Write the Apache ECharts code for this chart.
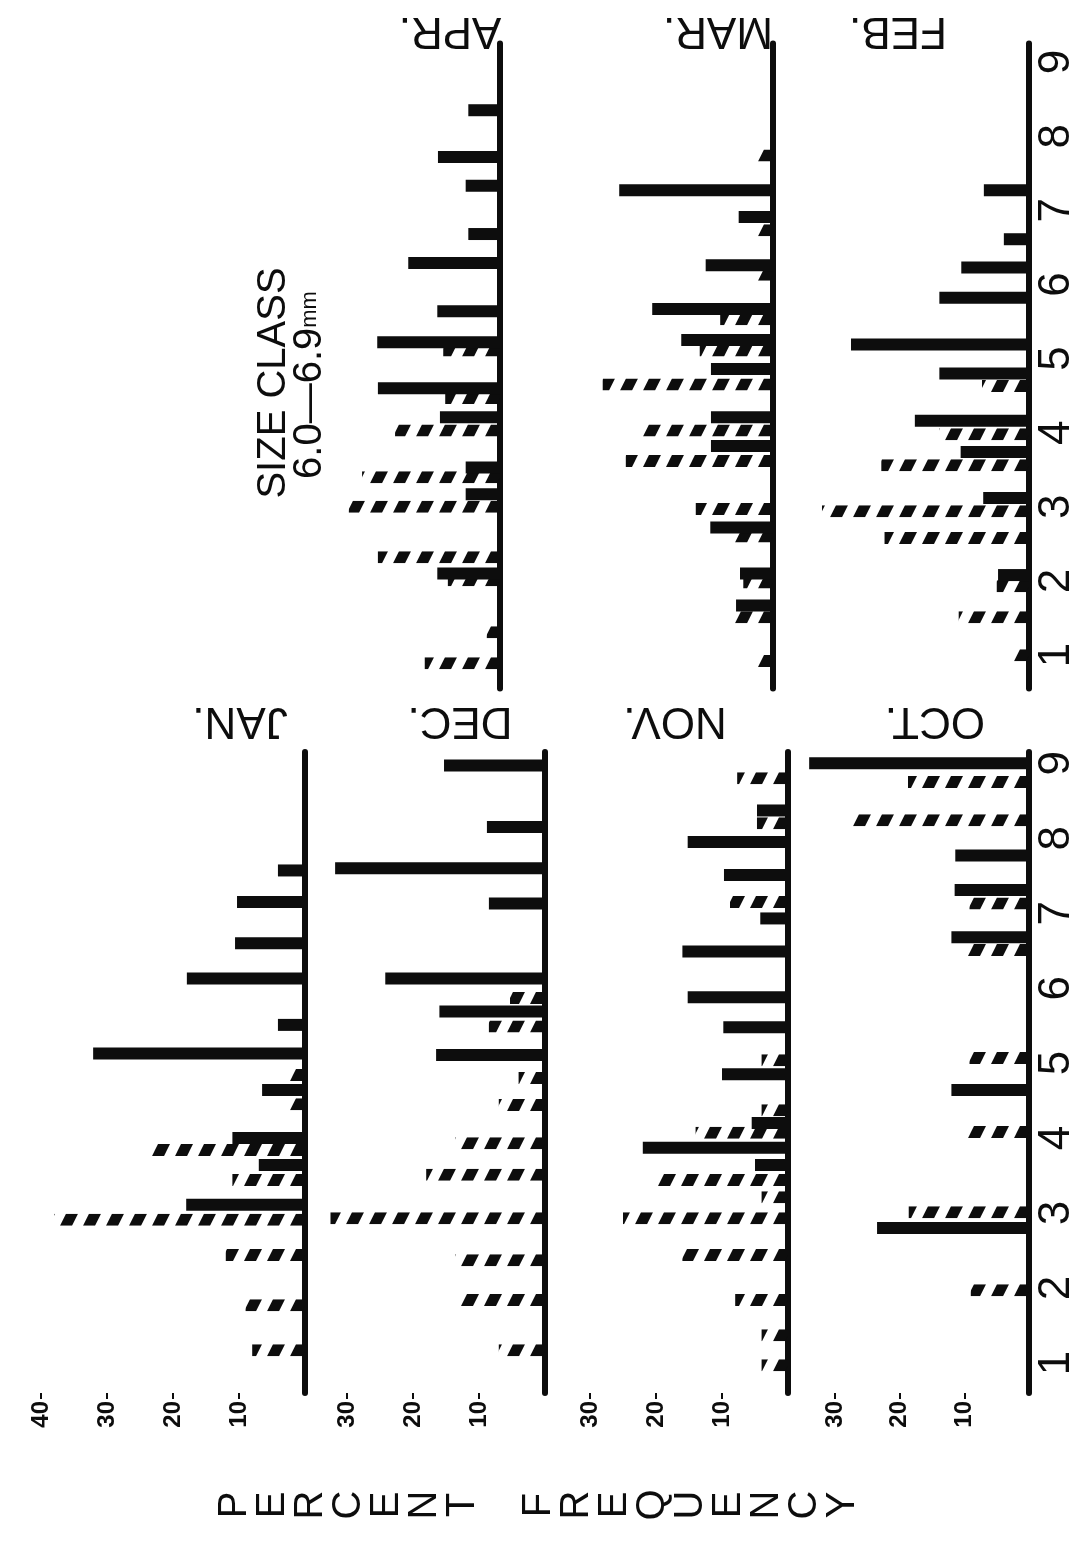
<!DOCTYPE html>
<html><head><meta charset="utf-8">
<script src="https://cdn.jsdelivr.net/npm/echarts@6/dist/echarts.min.js"></script>
<style>html,body{margin:0;padding:0;background:#fff}#c{width:1079px;height:1557px}</style>
</head><body><div id="c"></div><script>
// ---- data: [size class, percent frequency] ----
const SIZE_TICKS = [1,2,3,4,5,6,7,8,9];
const JAN_PCT_TICKS = [10,20,30,40];
const PCT_TICKS = [10,20,30];
const MONTHS = ['JAN.','DEC.','NOV.','OCT.','APR.','MAR.','FEB.'];
const TITLE_1 = 'SIZE CLASS';
const TITLE_2 = '6.0\u20146.9';
const TITLE_UNIT = 'mm';
const Y_TITLE = 'PERCENT FREQUENCY';

const JAN_SOLID = [[7.57,4.1],[7.15,10.3],[6.6,10.6],[6.13,17.9],[5.51,4.1],[5.13,32.1],[4.64,6.5],[4.0,11],[3.64,7],[3.11,18]];
const JAN_HATCH = [[4.84,2.5],[4.45,3],[3.84,23.5],[3.44,11],[2.91,38],[2.44,12],[1.77,9],[1.17,8]];
const DEC_SOLID = [[8.97,15.3],[8.15,8.8],[7.6,31.8],[7.13,8.5],[6.13,24.2],[5.69,16],[5.11,16.5]];
const DEC_HATCH = [[5.87,5.3],[5.49,8.5],[4.8,4],[4.44,7],[3.93,13.6],[3.51,18],[2.93,32.5],[2.37,13.6],[1.84,13],[1.17,7]];
const NOV_SOLID = [[8.37,4.7],[7.95,15.2],[7.51,9.7],[6.93,4.2],[6.49,16],[5.88,15.2],[5.48,9.8],[4.85,10],[4.2,5.5],[3.87,22],[3.64,5]];
const NOV_HATCH = [[8.8,7.7],[8.2,4.7],[7.15,8.8],[5.04,4],[4.37,4],[4.07,14],[3.44,20],[3.21,4],[2.93,25],[2.44,16],[1.84,8],[1.37,4],[0.97,4]];
const OCT_SOLID = [[9.0,34],[7.77,11.4],[7.31,11.5],[6.68,12],[4.64,12],[2.8,23.5]];
const OCT_HATCH = [[8.75,18.7],[8.24,27.5],[7.13,9.2],[6.51,9.8],[5.07,9.2],[4.08,10],[3.01,18.6],[1.97,9]];
const APR_SOLID = [[8.35,4.8],[7.72,9.4],[7.33,5.2],[6.68,4.8],[6.29,13.9],[5.64,9.5],[5.22,18.6],[4.60,18.5],[4.21,9.1],[3.53,5.2],[3.17,5.2],[2.10,9.5]];
const APR_HATCH = [[5.11,8.6],[4.47,8.3],[4.03,15.9],[3.40,20.9],[3.0,22.9],[2.32,18.5],[2.01,7.9],[1.31,2.0],[0.89,11.4]];
const MAR_SOLID = [[7.27,23.3],[6.91,5.2],[6.26,10.2],[5.67,18.3],[5.25,13.9],[4.86,9.4],[4.21,9.4],[3.82,9.4],[2.72,9.5],[2.10,5.0],[1.67,5.6]];
const MAR_HATCH = [[7.74,2.7],[6.73,2.9],[6.13,2.7],[5.53,8.0],[5.11,11.1],[4.65,25.8],[4.03,20.0],[3.62,22.3],[2.97,11.7],[2.60,6.1],[1.98,4.5],[1.51,6.1],[0.92,2.7]];
const FEB_SOLID = [[7.27,7.0],[6.61,3.9],[6.23,10.5],[5.82,13.9],[5.19,27.6],[4.80,13.9],[4.16,17.7],[3.74,10.6],[3.12,7.1],[2.08,4.8]];
const FEB_HATCH = [[4.63,7.3],[3.98,13.9],[3.56,22.9],[2.94,32.1],[2.58,22.4],[1.93,5.0],[1.51,10.9],[1.0,2.7]];

// ---- layout / style ----
const INK = '#0d0d0d';
const FONT = 'Liberation Sans';
const PX_PER_PCT = 6.6;
const BAR_H = 12;
const HATCH_P = 23, HATCH_W = 12, HATCH_SK = 6;
const LEFT_COL = {top: 752, height: 641, min: 0.6, max: 9.15};
const RIGHT_COL = {top: 43.5, height: 645, min: 0.55, max: 9.25};
const PANELS = [
  {name: MONTHS[0], solid: JAN_SOLID, hatch: JAN_HATCH, col: LEFT_COL, left: 40, width: 265, pct: JAN_PCT_TICKS, sizeLabels: false, title: [240, 720]},
  {name: MONTHS[1], solid: DEC_SOLID, hatch: DEC_HATCH, col: LEFT_COL, left: 305, width: 240, pct: PCT_TICKS, sizeLabels: false, title: [460, 720]},
  {name: MONTHS[2], solid: NOV_SOLID, hatch: NOV_HATCH, col: LEFT_COL, left: 545, width: 243, pct: PCT_TICKS, sizeLabels: false, title: [675, 720]},
  {name: MONTHS[3], solid: OCT_SOLID, hatch: OCT_HATCH, col: LEFT_COL, left: 788, width: 246, pct: PCT_TICKS, sizeLabels: true, title: [935, 720]},
  {name: MONTHS[4], solid: APR_SOLID, hatch: APR_HATCH, col: RIGHT_COL, left: 230, width: 270, pct: null, sizeLabels: false, title: [450, 30]},
  {name: MONTHS[5], solid: MAR_SOLID, hatch: MAR_HATCH, col: RIGHT_COL, left: 503, width: 270, pct: null, sizeLabels: false, title: [718, 30]},
  {name: MONTHS[6], solid: FEB_SOLID, hatch: FEB_HATCH, col: RIGHT_COL, left: 773, width: 262, pct: null, sizeLabels: true, title: [898, 30]}
];

function solidItem(params, api) {
  const s = api.value(0), v = api.value(1);
  const a = api.coord([0, s]), b = api.coord([v, s]);
  return {type: 'rect', shape: {x: b[0], y: a[1] - BAR_H / 2, width: a[0] - b[0], height: BAR_H}, style: {fill: INK}};
}
function hatchItem(params, api) {
  const s = api.value(0), v = api.value(1);
  const a = api.coord([0, s]), b = api.coord([v, s]);
  const yT = a[1] - BAR_H / 2, yB = a[1] + BAR_H / 2, xR = a[0], xL = b[0];
  const kids = [];
  for (let xr = xR + 3; xr > xL; xr -= HATCH_P) {
    kids.push({type: 'polygon', shape: {points: [[xr - HATCH_W - HATCH_SK, yB], [xr - HATCH_SK, yB], [xr, yT], [xr - HATCH_W, yT]]}, style: {fill: INK}});
  }
  return {type: 'group', clipPath: {type: 'rect', shape: {x: xL, y: yT, width: xR - xL, height: BAR_H}}, children: kids};
}

const grid = [], xAxis = [], yAxis = [], series = [], graphic = [];
PANELS.forEach((p, i) => {
  grid.push({left: p.left, top: p.col.top, width: p.width, height: p.col.height, containLabel: false});
  xAxis.push({
    gridIndex: i, type: 'value', inverse: true, min: 0, max: p.width / PX_PER_PCT,
    axisLine: {show: false}, splitLine: {show: false},
    axisTick: {show: !!p.pct, customValues: p.pct || [], length: 6, lineStyle: {color: INK, width: 2}},
    axisLabel: {show: !!p.pct, customValues: p.pct || [], rotate: 90, fontSize: 24, fontWeight: 'bold', fontFamily: FONT, color: INK, margin: 8}
  });
  yAxis.push({
    gridIndex: i, type: 'value', min: p.col.min, max: p.col.max, position: 'right',
    axisLine: {show: true, onZero: false, lineStyle: {color: INK, width: 6}},
    axisTick: {show: false}, splitLine: {show: false},
    axisLabel: {show: p.sizeLabels, customValues: SIZE_TICKS, rotate: 90, fontSize: 44, fontFamily: FONT, color: INK, margin: 6}
  });
  series.push({type: 'custom', xAxisIndex: i, yAxisIndex: i, renderItem: hatchItem, encode: {x: 1, y: 0}, data: p.hatch, silent: true});
  series.push({type: 'custom', xAxisIndex: i, yAxisIndex: i, renderItem: solidItem, encode: {x: 1, y: 0}, data: p.solid, silent: true});
  graphic.push({type: 'text', x: p.title[0], y: p.title[1], rotation: Math.PI,
    style: {text: p.name, font: '44px ' + FONT, fill: INK, textAlign: 'center', textVerticalAlign: 'middle'}});
});
graphic.push({type: 'text', x: 274, y: 383, rotation: Math.PI / 2,
  style: {text: TITLE_1, font: '40px ' + FONT, fill: INK, textAlign: 'center', textVerticalAlign: 'middle'}});
graphic.push({type: 'text', x: 310, y: 385, rotation: Math.PI / 2,
  style: {text: '{a|' + TITLE_2 + '}{b|' + TITLE_UNIT + '}', rich: {a: {font: '40px ' + FONT, fill: INK}, b: {font: '22px ' + FONT, fill: INK}}, textAlign: 'center', textVerticalAlign: 'middle'}});
Y_TITLE.split('').forEach((ch, k) => {
  if (ch === ' ') return;
  graphic.push({type: 'text', x: 235 + k * 38, y: 1505, rotation: Math.PI / 2,
    style: {text: ch, font: '40px ' + FONT, fill: INK, textAlign: 'center', textVerticalAlign: 'middle'}});
});

const chart = echarts.init(document.getElementById('c'), null, {renderer: 'canvas'});
chart.setOption({animation: false, backgroundColor: '#fff', grid, xAxis, yAxis, series, graphic});
</script></body></html>
